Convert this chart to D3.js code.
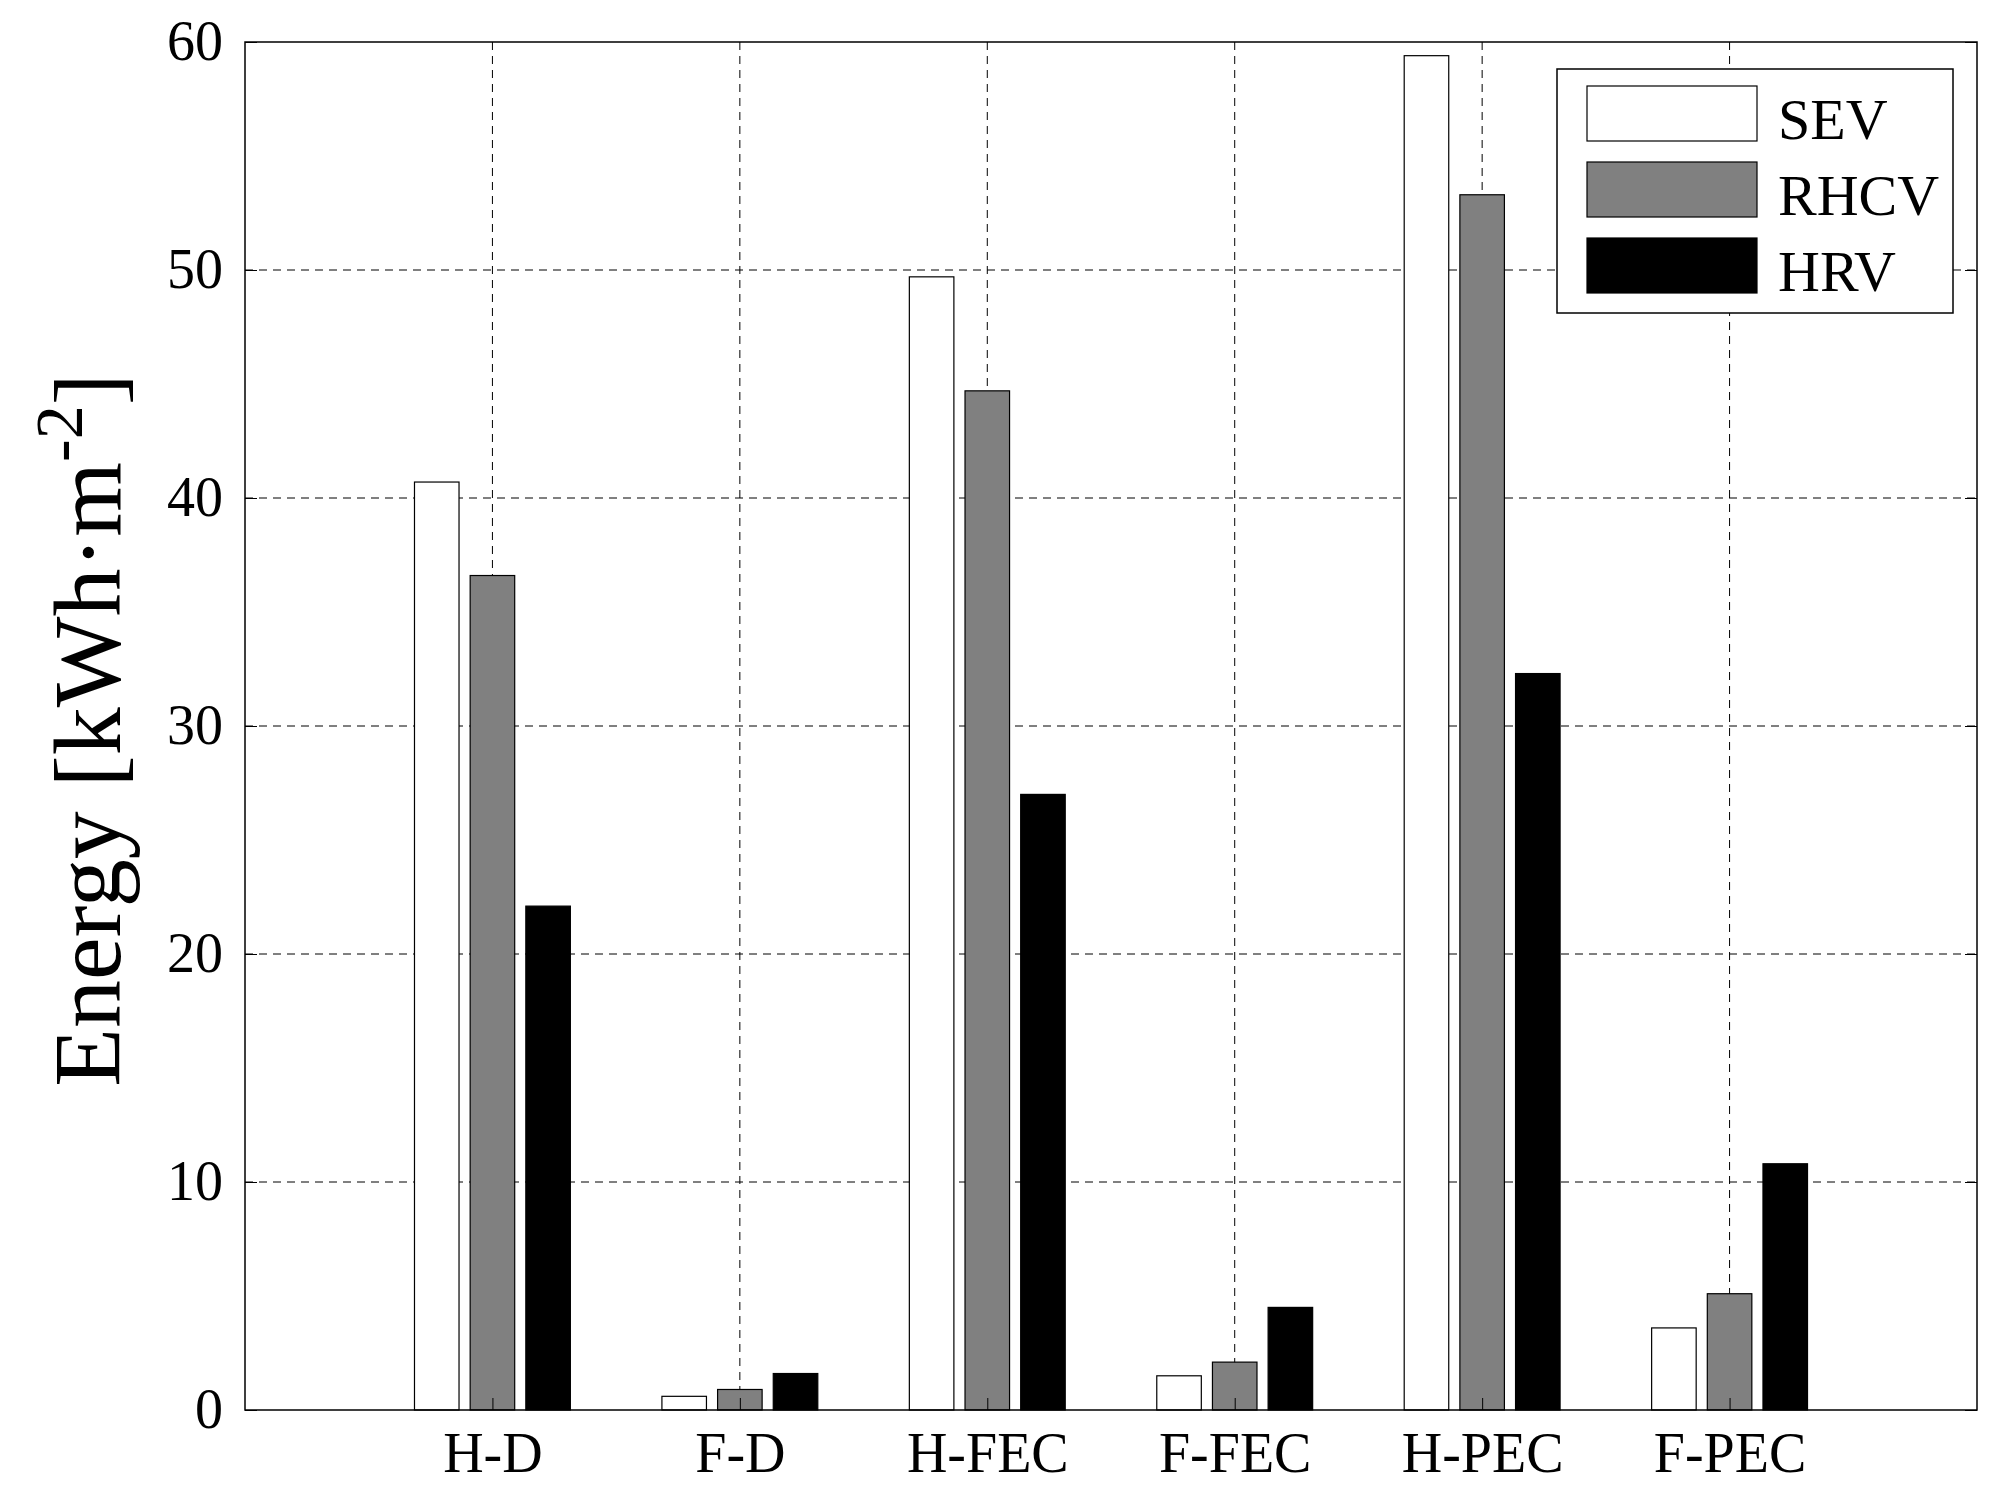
<!DOCTYPE html>
<html><head><meta charset="utf-8">
<script src="https://cdn.jsdelivr.net/npm/d3@7"></script>
<style>body{margin:0;background:#fff}text{font-family:"Liberation Serif","Times New Roman",serif}</style>
</head><body>
<script>
const categories = ["H-D", "F-D", "H-FEC", "F-FEC", "H-PEC", "F-PEC"];
const seriesNames = ["SEV", "RHCV", "HRV"];
const seriesColors = ["#ffffff", "#808080", "#000000"];
const sev = [40.7, 0.6, 49.7, 1.5, 59.4, 3.6];
const rhcv = [36.6, 0.9, 44.7, 2.1, 53.3, 5.1];
const hrv = [22.1, 1.6, 27.0, 4.5, 32.3, 10.8];
const yTicks = [0, 10, 20, 30, 40, 50, 60];

const W = 1997, H = 1495;
const m = {left: 245, top: 42, right: 1977, bottom: 1410};
const svg = d3.select("body").append("svg").attr("width", W).attr("height", H);

const x = d3.scaleLinear().domain([0, 7]).range([m.left, m.right]);
const y = d3.scaleLinear().domain([0, 60]).range([m.bottom, m.top]);

// grid
const grid = svg.append("g").attr("stroke", "#000").attr("stroke-width", 1).attr("stroke-dasharray", "8,6");
yTicks.slice(1, -1).forEach(t => grid.append("line").attr("x1", m.left).attr("x2", m.right).attr("y1", y(t)).attr("y2", y(t)));
categories.forEach((c, i) => grid.append("line").attr("x1", x(i + 1)).attr("x2", x(i + 1)).attr("y1", m.top).attr("y2", m.bottom));

// bars
const all = [sev, rhcv, hrv];
const offsets = [-0.225, 0, 0.225], bw = 0.18;
all.forEach((vals, s) => {
  svg.append("g").selectAll("rect").data(vals).join("rect")
    .attr("x", (d, i) => x(i + 1 + offsets[s] - bw / 2))
    .attr("width", x(bw) - x(0))
    .attr("y", d => y(d))
    .attr("height", d => y(0) - y(d))
    .attr("fill", seriesColors[s]).attr("stroke", "#000").attr("stroke-width", 1.2);
});

// frame
svg.append("rect").attr("x", m.left).attr("y", m.top).attr("width", m.right - m.left).attr("height", m.bottom - m.top)
  .attr("fill", "none").attr("stroke", "#000").attr("stroke-width", 1.5);

// axes
const yAxis = svg.append("g").attr("transform", `translate(${m.left},0)`)
  .call(d3.axisLeft(y).tickValues(yTicks).tickSize(-12).tickPadding(22));
const xAxis = svg.append("g").attr("transform", `translate(0,${m.bottom})`)
  .call(d3.axisBottom(x).tickValues(d3.range(1, 7)).tickFormat(d => categories[d - 1]).tickSize(-12).tickPadding(22));
[yAxis, xAxis].forEach(a => {
  a.select(".domain").remove();
  a.selectAll("text").style("font-size", "56px").attr("fill", "#000");
});
svg.append("g").attr("transform", `translate(${m.right},0)`)
  .call(d3.axisRight(y).tickValues(yTicks).tickSize(-12).tickFormat(""))
  .select(".domain").remove();

// y label
const yl = svg.append("text").attr("transform", `translate(120,730) rotate(-90)`)
  .attr("text-anchor", "middle").style("font-size", "96px");
yl.append("tspan").text("Energy [kWh\u00b7m");
yl.append("tspan").attr("dy", -38).style("font-size", "68px").text("-2");
yl.append("tspan").attr("dy", 38).text("]");

// legend
const lg = svg.append("g");
lg.append("rect").attr("x", 1557).attr("y", 69).attr("width", 396).attr("height", 244)
  .attr("fill", "#fff").attr("stroke", "#000").attr("stroke-width", 1.5);
seriesNames.forEach((n, i) => {
  lg.append("rect").attr("x", 1587).attr("y", 86 + i * 76).attr("width", 170).attr("height", 55)
    .attr("fill", seriesColors[i]).attr("stroke", "#000").attr("stroke-width", 1.2);
  lg.append("text").attr("x", 1778).attr("y", 139 + i * 76).style("font-size", "58px").text(n);
});
</script>
</body></html>
